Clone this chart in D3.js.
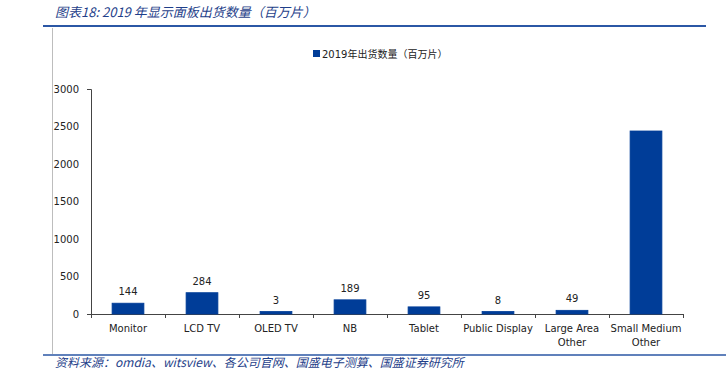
<!DOCTYPE html>
<html><head><meta charset="utf-8">
<script src="https://cdn.jsdelivr.net/npm/d3@7"></script>
<style>
body{margin:0;background:#fff;}
text{font-family:"DejaVu Sans","Noto Sans CJK SC",sans-serif;}
</style></head>
<body><svg id="c" width="726" height="372"></svg>
<script>
const categories = ["Monitor","LCD TV","OLED TV","NB","Tablet","Public Display","Large Area Other","Small Medium Other"];
const categoryLines = [["Monitor"],["LCD TV"],["OLED TV"],["NB"],["Tablet"],["Public Display"],["Large Area","Other"],["Small Medium","Other"]];
const values = [144,284,3,189,95,8,49,2440];
const showLabel = [true,true,true,true,true,true,true,false];
const yTicks = [0,500,1000,1500,2000,2500,3000];
const seriesName = "2019年出货数量（百万片）";
const titleText = "图表18:  2019 年显示面板出货数量（百万片）";
const sourceText = "资料来源：omdia、witsview、各公司官网、国盛电子测算、国盛证券研究所";

const svg = d3.select("#c");
const blue = "#003D98";
const cjk = '"Noto Sans CJK SC","DejaVu Sans",sans-serif';

// header / footer
svg.append("text").attr("x",55).attr("y",17).attr("font-size",13).attr("font-style","italic")
  .attr("fill","#1F3F8A").style("font-family",cjk).text(titleText);
svg.append("line").attr("x1",43).attr("x2",706).attr("y1",26).attr("y2",26).attr("stroke","#2B57A5").attr("stroke-width",2);
svg.append("line").attr("x1",52.5).attr("x2",52.5).attr("y1",28).attr("y2",354).attr("stroke","#bdbdbd").attr("stroke-width",1);
svg.append("line").attr("x1",43).attr("x2",726).attr("y1",355).attr("y2",355).attr("stroke","#2B57A5").attr("stroke-width",1.5);
svg.append("text").attr("x",55).attr("y",367).attr("font-size",12).attr("font-style","italic")
  .attr("fill","#1F3F8A").style("font-family",cjk).text(sourceText);

// scales
const x = d3.scaleBand().domain(categories).range([91,683]).paddingInner(0.57).paddingOuter(0.285);
const y = d3.scaleLinear().domain([0,3000]).range([314,89]);

// y axis
const ya = svg.append("g").attr("transform","translate(91,0)")
  .call(d3.axisLeft(y).tickValues(yTicks).tickFormat(d3.format("d")).tickSizeInner(0).tickSizeOuter(4).tickPadding(12));
ya.select(".domain").attr("stroke","#444");
ya.selectAll("text").attr("font-size",10).attr("fill","#222").style("font-family",'"DejaVu Sans",sans-serif');

// x axis line
svg.append("line").attr("x1",91).attr("x2",683).attr("y1",314.5).attr("y2",314.5).attr("stroke","#444");
const bounds = d3.range(categories.length+1).map(i=>91+i*(592/categories.length));
svg.selectAll(".xt").data(bounds).enter().append("line")
  .attr("x1",d=>d+0.5).attr("x2",d=>d+0.5).attr("y1",314).attr("y2",318).attr("stroke","#444");

// bars
svg.selectAll(".bar").data(values).enter().append("rect")
  .attr("x",(d,i)=>x(categories[i]))
  .attr("width",x.bandwidth())
  .attr("y",d=>Math.min(y(d),y(0)-2.5))
  .attr("height",d=>Math.max(y(0)-y(d),2.5))
  .attr("fill",blue).attr("stroke",blue).attr("stroke-width",0.8);

// data labels
svg.selectAll(".lbl").data(values).enter().filter((d,i)=>showLabel[i]).append("text")
  .attr("x",(d,i)=>x(categories[i])+x.bandwidth()/2)
  .attr("y",d=>Math.min(y(d),y(0)-2.5)-8)
  .attr("text-anchor","middle").attr("font-size",10).attr("fill","#222")
  .text(d=>d);

// category labels
categoryLines.forEach((lines,i)=>{
  const cx = x(categories[i])+x.bandwidth()/2;
  lines.forEach((t,j)=>{
    svg.append("text").attr("x",cx).attr("y",332+j*14).attr("text-anchor","middle")
      .attr("font-size",10).attr("fill","#222").text(t);
  });
});

// legend
svg.append("rect").attr("x",313).attr("y",50).attr("width",7).attr("height",7).attr("fill",blue);
svg.append("text").attr("x",322).attr("y",57.5).attr("font-size",10).attr("fill","#222")
  .style("font-family",'"DejaVu Sans","Noto Sans CJK SC",sans-serif').text(seriesName);
</script></body></html>
